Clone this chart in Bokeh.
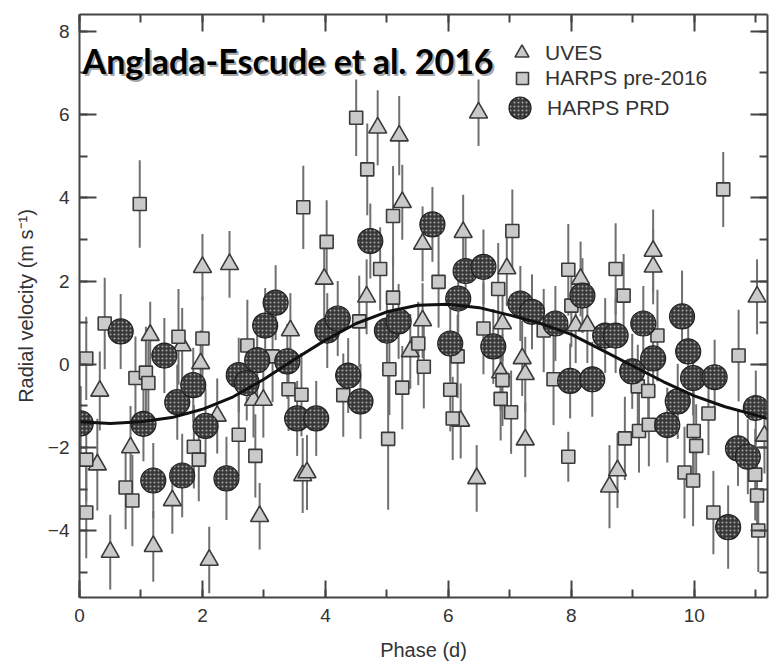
from bokeh.plotting import figure
from bokeh.models import (Range1d, LinearAxis, SingleIntervalTicker, Legend, LegendItem,
                          Label, ColumnDataSource, CustomJSTickFormatter, BoxAnnotation)
from bokeh.embed import file_html
from bokeh.resources import INLINE

# ---------------- data ----------------
x_limits = [0.0, 11.19]
y_limits = [-5.6, 8.4]
y_tick_labels = {-4: "\u22124", -2: "\u22122"}

uves_x = [0.29, 0.33, 0.50, 0.83, 1.15, 1.20, 1.51, 1.67, 1.97, 2.00,
          2.11, 2.24, 2.44, 2.83, 2.93, 2.99, 3.43, 3.63, 3.70, 3.98,
          4.67, 4.85, 5.20, 5.25, 5.38, 5.58, 5.58, 6.20, 6.24, 6.46,
          6.49, 6.85, 6.88, 6.95, 7.20, 7.25, 7.25, 8.07, 8.15, 8.26,
          8.62, 8.75, 9.33, 9.33, 11.02, 11.14]
uves_y = [-2.41, -0.64, -4.51, -2.00, 0.70, -4.37, -3.27, 0.45, 0.02, 2.33,
          -4.70, -1.24, 2.40, -0.86, -3.65, -0.86, 0.81, -2.67, -2.60, 2.05,
          1.62, 5.68, 5.49, 3.89, 0.31, 2.89, 1.05, -1.36, 3.17, -2.74,
          6.04, -0.20, 0.98, 2.30, 0.14, -0.24, -1.81, 0.93, 2.05, 0.93,
          -2.94, -2.55, 2.72, 2.34, 1.62, -1.72]
uves_err = [1.1, 0.95, 0.9, 1.0, 0.8, 0.85, 0.8, 0.9, 0.8, 0.8,
            0.8, 0.9, 0.8, 0.9, 0.8, 0.9, 0.9, 0.9, 0.9, 1.0,
            0.9, 0.9, 0.95, 0.9, 0.9, 0.9, 0.9, 0.9, 0.9, 0.8,
            0.8, 0.9, 0.9, 0.9, 0.9, 0.9, 0.9, 0.9, 0.9, 0.9,
            1.0, 0.9, 1.0, 0.9, 0.9, 0.9]

harps_x = [0.11, 0.11, 0.11, 0.41, 0.75, 0.86, 0.91, 0.98, 1.08, 1.12,
           1.61, 1.86, 1.94, 2.00, 2.59, 2.73, 2.86, 3.14, 3.40, 3.61,
           3.64, 4.02, 4.29, 4.50, 4.55, 4.68, 4.89, 5.02, 5.04, 5.10,
           5.10, 5.25, 5.51, 5.60, 5.84, 6.03, 6.07, 6.15, 6.57, 6.81,
           6.85, 6.88, 7.02, 7.04, 7.55, 7.71, 7.95, 7.95, 8.00, 8.72,
           8.85, 8.87, 9.08, 9.10, 9.25, 9.26, 9.40, 9.84, 9.98, 9.99,
           10.03, 10.23, 10.31, 10.47, 10.72, 10.99, 11.02, 11.04]
harps_y = [0.14, -2.29, -3.56, 0.98, -2.96, -3.27, -0.33, 3.85, -0.20, -0.45,
           0.66, -1.98, -2.29, 0.62, -1.69, 0.45, -2.20, 0.19, -0.60, -0.73,
           3.77, 2.94, -0.74, 5.92, 1.03, 4.68, 2.29, -1.79, -0.12, 3.56,
           1.60, -0.56, 0.50, -0.06, 1.98, -0.61, -1.30, 0.19, 0.86, 1.81,
           -0.83, -0.38, -1.15, 3.20, 0.81, -0.36, 2.27, -2.22, 1.41, 2.29,
           1.65, -1.78, -0.53, -1.60, -0.64, -1.45, 0.69, -2.60, -2.79, -1.60,
           -1.96, -1.18, -3.56, 4.20, 0.21, -2.65, -3.15, -3.99]
harps_err = [1.0, 1.0, 1.1, 1.1, 1.0, 1.1, 1.0, 1.05, 1.1, 1.0,
             1.15, 1.0, 1.0, 1.0, 1.0, 1.1, 1.0, 1.1, 1.0, 1.0,
             1.0, 1.0, 1.0, 0.92, 1.1, 1.1, 1.0, 1.7, 1.1, 1.2,
             1.0, 1.0, 1.0, 1.0, 1.1, 1.0, 1.0, 1.0, 1.1, 1.1,
             1.0, 1.1, 1.0, 1.0, 1.0, 1.1, 1.1, 0.6, 1.0, 1.1,
             1.0, 1.0, 1.0, 1.0, 1.0, 1.0, 1.1, 1.1, 1.1, 1.1,
             1.0, 1.0, 1.0, 0.9, 1.1, 1.1, 1.0, 1.0]

prd_x = [0.02, 0.67, 1.04, 1.20, 1.38, 1.59, 1.67, 1.85, 2.05, 2.39,
         2.59, 2.72, 2.89, 3.02, 3.19, 3.38, 3.54, 3.85, 4.03, 4.20,
         4.37, 4.57, 4.73, 5.00, 5.19, 5.74, 6.03, 6.16, 6.28, 6.57,
         6.73, 7.17, 7.36, 7.74, 7.98, 8.18, 8.34, 8.55, 8.72, 8.99,
         9.17, 9.33, 9.56, 9.73, 9.80, 9.90, 9.98, 10.33, 10.55, 10.71,
         10.87, 11.00]
prd_y = [-1.42, 0.79, -1.43, -2.79, 0.21, -0.91, -2.67, -0.50, -1.48, -2.74,
         -0.26, -0.45, 0.10, 0.93, 1.48, 0.07, -1.30, -1.30, 0.81, 1.10,
         -0.27, -0.89, 2.96, 0.81, 1.03, 3.36, 0.50, 1.58, 2.24, 2.34,
         0.43, 1.46, 1.26, 0.98, -0.40, 1.65, -0.36, 0.69, 0.69, -0.17,
         0.98, 0.14, -1.46, -0.89, 1.15, 0.31, -0.33, -0.31, -3.91, -2.02,
         -2.22, -1.05]
prd_err = [0.9, 0.9, 0.9, 0.9, 0.9, 0.9, 1.0, 0.9, 0.9, 1.0,
           0.9, 0.9, 0.9, 0.9, 0.9, 0.9, 0.9, 0.9, 0.9, 0.9,
           0.9, 0.9, 0.9, 0.9, 0.9, 0.9, 0.9, 0.9, 0.9, 0.9,
           0.9, 0.9, 0.9, 0.9, 0.9, 0.9, 0.9, 0.9, 0.9, 0.9,
           0.9, 0.9, 0.9, 0.9, 1.1, 0.9, 0.9, 0.9, 1.0, 0.9,
           0.9, 0.9]

curve_x = [0.0, 0.5, 1.0, 1.5, 2.0, 2.5, 3.0, 3.5, 4.0, 4.5, 5.0, 5.5,
           6.0, 6.5, 7.0, 7.5, 8.0, 8.5, 9.0, 9.5, 10.0, 10.5, 11.0, 11.19]
curve_y = [-1.38, -1.42, -1.38, -1.28, -1.08, -0.78, -0.36, 0.12, 0.58, 0.98, 1.26, 1.42,
           1.44, 1.36, 1.18, 0.98, 0.72, 0.34, -0.04, -0.42, -0.76, -1.02, -1.22, -1.30]

title_text = "Anglada-Escude et al. 2016"
series_names = ["UVES", "HARPS pre-2016", "HARPS PRD"]

# ---------------- figure ----------------
AX = "#444444"
TXT = "#333333"
FONT = "Liberation Sans"

p = figure(width=770, height=663,
           x_range=Range1d(*x_limits), y_range=Range1d(*y_limits),
           output_backend="svg", toolbar_location=None,
           min_border_left=79, min_border_right=3, min_border_top=14, min_border_bottom=63,
           background_fill_color="white", border_fill_color="white")
p.grid.visible = False
p.outline_line_color = None


def style_axis(ax, labels=True):
    ax.ticker = SingleIntervalTicker(interval=2, num_minor_ticks=2)
    ax.major_tick_in = 17
    ax.major_tick_out = 0
    ax.minor_tick_in = 8
    ax.minor_tick_out = 0
    ax.axis_line_color = AX
    ax.axis_line_width = 2
    ax.major_tick_line_color = AX
    ax.major_tick_line_width = 2
    ax.minor_tick_line_color = AX
    ax.minor_tick_line_width = 2
    ax.major_label_text_font = FONT
    ax.major_label_text_color = TXT
    if labels:
        ax.major_label_text_font_size = "19px"
    else:
        ax.formatter = CustomJSTickFormatter(code="return ''")
        ax.major_label_text_font_size = "1px"
        ax.major_label_standoff = 0


style_axis(p.xaxis[0])
style_axis(p.yaxis[0])
p.xaxis[0].major_label_standoff = 11
p.yaxis[0].major_label_standoff = 10
p.yaxis[0].major_label_overrides = y_tick_labels
p.xaxis[0].axis_label = "Phase (d)"
p.yaxis[0].axis_label = "Radial velocity (m s\u207b\u00b9)"
for ax in (p.xaxis[0], p.yaxis[0]):
    ax.axis_label_text_font = FONT
    ax.axis_label_text_font_size = "20px"
    ax.axis_label_text_font_style = "normal"
    ax.axis_label_text_color = TXT
p.xaxis[0].axis_label_standoff = 14
p.yaxis[0].axis_label_standoff = 8

top_ax = LinearAxis()
style_axis(top_ax, labels=False)
p.add_layout(top_ax, "above")
right_ax = LinearAxis()
style_axis(right_ax, labels=False)
p.add_layout(right_ax, "right")

# ---------------- error bars ----------------
BAR = "#707070"
for xs, ys, es in ((harps_x, harps_y, harps_err), (uves_x, uves_y, uves_err), (prd_x, prd_y, prd_err)):
    src = ColumnDataSource(dict(x=xs, lo=[y - e for y, e in zip(ys, es)], hi=[y + e for y, e in zip(ys, es)]))
    p.segment(x0="x", y0="lo", x1="x", y1="hi", source=src, line_color=BAR, line_width=2)

# ---------------- markers ----------------
r_uves = p.scatter(uves_x, uves_y, marker="triangle", size=18, fill_color="#cacaca",
                   line_color="#3a3a3a", line_width=1.6)
r_harps = p.scatter(harps_x, harps_y, marker="square", size=13, fill_color="#cacaca",
                    line_color="#3a3a3a", line_width=1.6)
r_prd = p.scatter(prd_x, prd_y, marker="circle", size=25, fill_color="#383838",
                  line_color="#222222", line_width=1.2,
                  hatch_pattern="dot", hatch_color="#a8a8a8", hatch_scale=4, hatch_weight=1)

# ---------------- model curve ----------------
p.line(curve_x, curve_y, line_color="#111111", line_width=3)

# ---------------- legends ----------------
def make_legend(name, rend, glyph, loc, standoff):
    lg = Legend(items=[LegendItem(label=name, renderers=[rend])], location=loc,
                glyph_width=glyph, glyph_height=glyph, label_height=glyph,
                padding=0, margin=0, spacing=0, border_line_color=None,
                background_fill_alpha=0, label_text_font=FONT, label_text_font_size="21px",
                label_text_color=TXT, label_standoff=standoff)
    p.add_layout(lg)


make_legend(series_names[0], r_uves, 35, (425, 527), 6)
make_legend(series_names[1], r_harps, 30, (428, 504), 8)
make_legend(series_names[2], r_prd, 55, (413, 462), 0)

# ---------------- title text with shadow ----------------
p.add_layout(Label(x=0.05, y=7.3, x_offset=2, y_offset=-2, text=title_text, text_font="Lato",
                   text_font_style="bold", text_font_size="34px", text_color="#909090",
                   text_alpha=0.8, text_baseline="alphabetic"))
p.add_layout(Label(x=0.05, y=7.3, text=title_text, text_font="Lato",
                   text_font_style="bold", text_font_size="34px", text_color="black",
                   text_baseline="alphabetic"))

# ---------------- corner marks seen in the picture ----------------
p.add_layout(BoxAnnotation(left=0, right=45, top=0, bottom=14,
                           left_units="canvas", right_units="canvas",
                           top_units="canvas", bottom_units="canvas",
                           fill_color="#1c1c1c", fill_alpha=1, line_color=None))
p.add_layout(BoxAnnotation(left=0, right=16, top=581, bottom=587,
                           left_units="canvas", right_units="canvas",
                           top_units="canvas", bottom_units="canvas",
                           fill_color="#e01818", fill_alpha=1, line_color=None))

open("out.html", "w").write(file_html(p, INLINE))
